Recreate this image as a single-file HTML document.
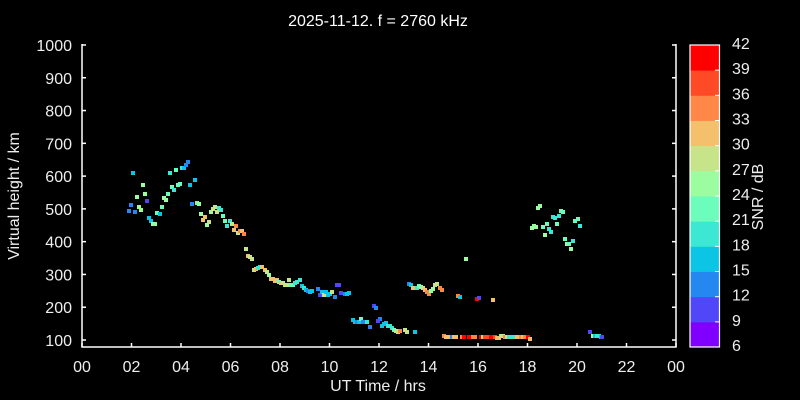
<!DOCTYPE html>
<html><head><meta charset="utf-8"><style>
html,body{margin:0;padding:0;background:#000;}
svg{display:block;font-family:"Liberation Sans",sans-serif;}
</style></head><body>
<svg id="s" width="800" height="400" viewBox="0 0 800 400" xmlns="http://www.w3.org/2000/svg">
<rect width="800" height="400" fill="#000"/>
<text x="378" y="26" fill="#fff" font-size="16" text-anchor="middle">2025-11-12. f = 2760 kHz</text>
<g stroke="#fff" stroke-width="1.5" fill="none">
<line x1="82" y1="44" x2="82" y2="347.5"/>
<line x1="81.5" y1="347" x2="676.5" y2="347"/>
<line x1="676" y1="44" x2="676" y2="347.5"/>
</g>
<g id="ticks" stroke="#fff" stroke-width="1.5"></g>
<g id="labs" fill="#eee" font-size="16"></g>
<g id="pts"></g>
<g id="cb"></g>
<text x="378" y="391" fill="#eee" font-size="16" text-anchor="middle">UT Time / hrs</text>
<text transform="translate(19,196) rotate(-90)" fill="#eee" font-size="16" text-anchor="middle">Virtual height / km</text>
<text transform="translate(763,197) rotate(-90)" fill="#eee" font-size="16" text-anchor="middle">SNR / dB</text>
</svg>
<script>
const NS="http://www.w3.org/2000/svg";
function el(t,a,p,txt){const e=document.createElementNS(NS,t);for(const k in a)e.setAttribute(k,a[k]);if(txt!==undefined)e.textContent=txt;document.getElementById(p).appendChild(e);return e;}
for(let h=100;h<=1000;h+=100){const y=340-(h-100)*0.3278;
el('line',{x1:82,y1:y,x2:86,y2:y},'ticks');el('line',{x1:672,y1:y,x2:676,y2:y},'ticks');
el('text',{x:72,y:y+6,'text-anchor':'end'},'labs',String(h));}
for(let i=0;i<=12;i++){const x=82+i*49.5;el('line',{x1:x,y1:343,x2:x,y2:347},'ticks');
el('text',{x:x,y:372,'text-anchor':'middle'},'labs',String((i*2)%24).padStart(2,'0'));}
const C=['#8000ff','#5048f8','#2488f0','#0cc4e4','#3ce8d4','#6cfcbc','#9cfca0','#c8e48a','#f4c06c','#ff8848','#ff4a28','#ff0000'];
for(let i=0;i<12;i++){const y=45+(11-i)*25.17;el('rect',{x:690,y:y,width:29.5,height:25.6,fill:C[i]},'cb');
if(i>0)el('line',{x1:715,y1:y+25.17,x2:719,y2:y+25.17,stroke:'#fff','stroke-width':1},'cb');}
el('rect',{x:690,y:45,width:29.5,height:302,fill:'none',stroke:'#fff','stroke-width':1.2},'cb');
for(let i=0;i<13;i++){el('text',{x:732,y:345-i*25.17+6,fill:'#eee','font-size':16},'cb',String(6+3*i));}
const P=[[133,173,3],[131,205,2],[129,211,2],[135,212,2],[137,197,6],[143,185,6],[145,194,6],[147,201,1],[139,207,6],[141,210,6],[149,218,3],[151,221,3],[153,224,6],[155,224,6],[157,213,5],[160,214,3],[162,207,5],[164,198,6],[166,200,6],[168,194,5],[172,187,5],[174,190,4],[170,173,4],[176,170,5],[178,185,5],[180,184,5],[182,168,4],[184,168,3],[186,165,2],[188,162,2],[190,185,3],[195,180,3],[192,204,2],[197,203,5],[199,204,6],[201,214,6],[205,217,8],[203,220,8],[209,222,7],[207,225,6],[211,212,6],[213,209,7],[215,207,7],[217,212,7],[219,208,4],[221,210,4],[223,216,5],[225,221,5],[227,226,4],[230,221,4],[232,224,7],[236,226,9],[234,230,8],[238,233,7],[240,231,9],[242,231,8],[244,234,9],[246,249,7],[248,256,8],[250,257,7],[252,259,7],[254,270,7],[256,269,8],[258,268,4],[260,267,4],[262,267,8],[265,270,8],[267,272,7],[269,275,6],[271,279,8],[273,279,8],[275,281,8],[277,280,8],[279,282,5],[281,283,8],[283,283,7],[285,285,7],[287,285,7],[289,280,7],[291,285,5],[293,285,5],[295,283,4],[297,282,4],[300,280,4],[302,286,3],[304,288,4],[306,290,3],[308,291,2],[310,292,3],[312,291,3],[318,289,2],[320,295,1],[322,292,3],[324,295,7],[326,292,3],[328,295,3],[330,294,3],[332,292,7],[335,297,2],[337,285,1],[339,285,1],[341,293,1],[345,294,2],[347,294,3],[349,293,3],[353,320,3],[355,322,3],[357,322,2],[359,322,3],[361,319,5],[363,322,2],[367,322,4],[370,327,2],[374,306,1],[376,308,2],[380,319,2],[378,321,1],[382,326,3],[384,324,3],[386,323,3],[388,326,4],[390,326,4],[392,328,4],[394,330,5],[396,331,7],[398,332,7],[400,331,9],[405,330,7],[407,332,7],[415,332,3],[409,284,2],[411,285,3],[413,288,8],[417,288,4],[419,286,5],[421,287,6],[423,288,7],[425,290,8],[427,292,9],[429,294,9],[431,291,6],[433,289,6],[435,285,7],[437,284,7],[440,288,9],[442,290,9],[458,296,9],[460,297,3],[466,259,6],[477,299,11],[479,298,1],[493,300,8],
[444,336,9],[446,337,8],[448,337,8],[450,337,8],[452,337,2],[454,337,8],[456,337,8],[462,337,9],[464,337,11],[469,337,11],[471,337,11],[473,337,9],[475,337,9],[481,337,11],[483,337,7],[485,337,10],[487,337,10],[489,337,10],[491,337,11],[493,337,11],[495,337,10],[497,338,8],[499,338,8],[501,336,7],[503,336,7],[505,337,9],[507,337,7],[509,337,4],[511,337,4],[513,337,4],[515,337,4],[517,337,8],[519,337,8],[521,337,9],[523,337,8],[525,337,9],[528,337,11],[530,339,8],
[538,208,6],[540,206,6],[532,228,6],[534,226,6],[536,227,6],[543,227,5],[547,224,5],[545,235,6],[549,229,4],[551,232,4],[553,217,4],[555,218,4],[557,224,5],[559,216,4],[561,211,5],[563,212,5],[565,239,5],[567,244,6],[569,244,5],[571,249,6],[573,241,4],[575,221,5],[578,219,5],[580,226,4],[590,332,1],[593,336,6],[595,336,3],[597,336,4],[599,336,4],[601,337,3],[602,337,1]];
for(const p of P)el('rect',{x:p[0]-2,y:p[1]-2,width:4,height:4,fill:C[p[2]]},'pts');
</script>
</body></html>
